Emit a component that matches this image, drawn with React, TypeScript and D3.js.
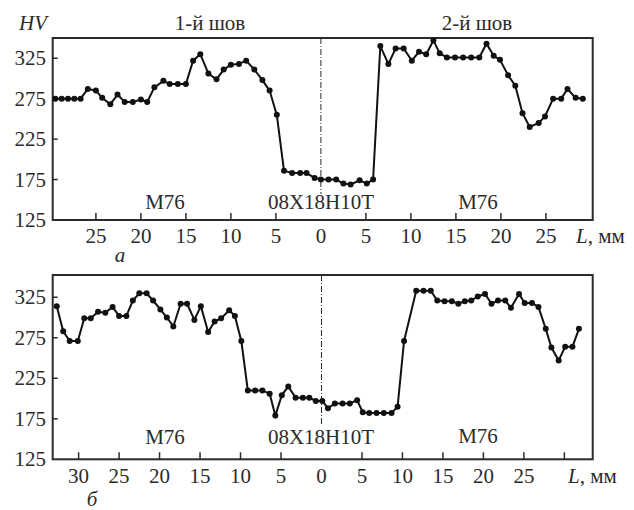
import * as d3 from "d3";

// hardness profiles, L in mm (negative = left of the joint axis), HV
const topL = [-29.5, -28.8, -28.1, -27.4, -26.7, -25.9, -25.0, -24.3, -23.4, -22.6, -21.8, -20.9, -20.0, -19.3, -18.5, -17.5, -16.8, -15.9, -15.0, -14.2, -13.4, -12.5, -11.6, -10.8, -10.0, -9.1, -8.3, -7.4, -6.5, -5.7, -4.9, -4.1, -3.2, -2.3, -1.6, -0.7, 0.0, 0.85, 1.7, 2.5, 3.3, 4.3, 5.1, 5.8, 6.6, 7.5, 8.3, 9.2, 10.1, 10.9, 11.7, 12.5, 13.2, 14.0, 14.9, 15.8, 16.7, 17.6, 18.4, 19.2, 19.9, 20.8, 21.6, 22.4, 23.2, 24.2, 24.9, 25.8, 26.7, 27.4, 28.3, 29.1];
const topHV = [275, 275, 275, 275, 275, 287, 285, 276, 268, 280, 271, 271, 274, 271, 289, 297, 293, 293, 293, 322, 330, 306, 299, 311, 317, 318, 322, 311, 298, 285, 255, 186, 183, 183, 183, 177, 175, 175, 175, 170, 169, 174, 170, 175, 340, 318, 337, 337, 322, 333, 330, 347, 331, 326, 326, 326, 326, 326, 343, 328, 323, 304, 291, 257, 240, 245, 253, 275, 275, 287, 276, 275];

const botL = [-32.7, -31.9, -31.1, -30.1, -29.3, -28.5, -27.6, -26.7, -25.8, -25.0, -24.1, -23.3, -22.5, -21.6, -20.8, -19.9, -19.1, -18.3, -17.4, -16.6, -15.7, -14.9, -14.0, -13.2, -12.4, -11.4, -10.7, -9.9, -9.1, -8.2, -7.3, -6.4, -5.7, -4.9, -4.1, -3.2, -2.3, -1.5, -0.7, 0.1, 0.8, 1.65, 2.6, 3.5, 4.4, 5.1, 5.9, 6.8, 7.7, 8.65, 9.4, 10.2, 11.7, 12.6, 13.5, 14.3, 15.2, 16.1, 16.9, 17.7, 18.5, 19.3, 20.2, 21.0, 21.8, 22.7, 23.4, 24.4, 25.1, 26.0, 26.8, 27.7, 28.4, 29.3, 30.1, 31.0, 31.8];
const botHV = [314, 283, 271, 271, 299, 299, 307, 306, 313, 302, 302, 321, 330, 330, 321, 310, 300, 289, 317, 317, 297, 314, 282, 295, 299, 309, 302, 271, 210, 210, 210, 206, 179, 204, 215, 201, 201, 201, 197, 197, 188, 194, 194, 194, 198, 183, 182, 182, 182, 182, 190, 271, 333, 333, 333, 321, 320, 320, 317, 320, 321, 326, 329, 317, 321, 321, 312, 329, 318, 318, 313, 286, 263, 247, 264, 264, 286];

const hvTicks = [125, 175, 225, 275, 325];
const topTicks = [-25, -20, -15, -10, -5, 0, 5, 10, 15, 20, 25];
const topTickLabels = ["25", "20", "15", "10", "5", "0", "5", "10", "15", "20", "25"];
const botTicks = [-30, -25, -20, -15, -10, -5, 0, 5, 10, 15, 20, 25, 30];
const botTickLabels = ["30", "25", "20", "15", "10", "5", "0", "5", "10", "15", "20", "25", ""];

const FONT = '"Liberation Serif", "Times New Roman", "DejaVu Serif", Times, serif';
const INK = "#2b2b2b";
const txt = { fontFamily: FONT, fill: INK } as const;

type PanelProps = {
  xs: number[];
  ys: number[];
  xDomain: [number, number];
  yDomain: [number, number];
  top: number;
  bottom: number;
  ticks: number[];
  tickLabels: string[];
  tickLabelY: number;
  axisPos: number; // dash-dot line ends here
  notes: { text: string; x: number; y: number }[];
};

function Panel(p: PanelProps) {
  const left = 52.7;
  const right = 592.7;
  const x = d3.scaleLinear().domain(p.xDomain).range([left, right]);
  const y = d3.scaleLinear().domain(p.yDomain).range([p.bottom, p.top]);
  const pts = p.xs.map((v, i) => [v, p.ys[i]] as [number, number]);
  const line = d3
    .line<[number, number]>()
    .x((d) => x(d[0]))
    .y((d) => y(d[1]));

  return (
    <g>
      <rect x={left} y={p.top} width={right - left} height={p.bottom - p.top} fill="none" stroke={INK} strokeWidth={2} />
      {/* joint axis */}
      <line x1={x(0)} x2={x(0)} y1={p.top} y2={p.axisPos} stroke={INK} strokeWidth={1} strokeDasharray="6,2,1,2" />
      {hvTicks.map((t) => (
        <g key={t}>
          {t !== 125 && <line x1={left} x2={left + 5} y1={y(t)} y2={y(t)} stroke={INK} strokeWidth={1.5} />}
          <text x={46} y={y(t) + 7} textAnchor="end" fontSize={21} style={txt}>
            {t}
          </text>
        </g>
      ))}
      {p.ticks.map((t, i) => (
        <g key={i}>
          {t !== 0 && <line x1={x(t)} x2={x(t)} y1={p.bottom} y2={p.bottom - 7} stroke={INK} strokeWidth={1.5} />}
          <text x={x(t)} y={p.tickLabelY} textAnchor="middle" fontSize={21} style={txt}>
            {p.tickLabels[i]}
          </text>
        </g>
      ))}
      {p.notes.map((n, i) => (
        <text key={i} x={n.x} y={n.y} textAnchor="middle" fontSize={21} style={txt}>
          {n.text}
        </text>
      ))}
      <path d={line(pts) ?? ""} fill="none" stroke="#111" strokeWidth={2} />
      {pts.map((d, i) => (
        <circle key={i} cx={x(d[0])} cy={y(d[1])} r={3} fill="#111" />
      ))}
    </g>
  );
}

export default function App() {
  return (
    <svg width={634} height={510} style={{ position: "absolute", left: 0, top: 0, background: "#fff" }}>
      <text x={19} y={30} fontSize={21} fontStyle="italic" style={txt}>
        HV
      </text>
      <text x={210} y={30} textAnchor="middle" fontSize={21} style={txt}>
        1-й шов
      </text>
      <text x={477} y={30} textAnchor="middle" fontSize={21} style={txt}>
        2-й шов
      </text>
      <Panel
        xs={topL}
        ys={topHV}
        xDomain={[-29.8, 30.2]}
        yDomain={[125, 350]}
        top={38}
        bottom={220}
        ticks={topTicks}
        tickLabels={topTickLabels}
        tickLabelY={243}
        axisPos={194}
        notes={[
          { text: "M76", x: 165, y: 209 },
          { text: "08X18H10T", x: 321, y: 209 },
          { text: "M76", x: 478, y: 209 },
        ]}
      />
      <text x={576} y={243} fontSize={21} style={txt}>
        <tspan fontStyle="italic">L</tspan>, мм
      </text>
      <text x={120} y={262} textAnchor="middle" fontSize={21} fontStyle="italic" style={txt}>
        а
      </text>
      <Panel
        xs={botL}
        ys={botHV}
        xDomain={[-33.2, 33.5]}
        yDomain={[125, 352.5]}
        top={275}
        bottom={459.3}
        ticks={botTicks}
        tickLabels={botTickLabels}
        tickLabelY={483}
        axisPos={426}
        notes={[
          { text: "M76", x: 165, y: 444 },
          { text: "08X18H10T", x: 321, y: 444 },
          { text: "M76", x: 478, y: 443 },
        ]}
      />
      <text x={568} y={483} fontSize={21} style={txt}>
        <tspan fontStyle="italic">L</tspan>, мм
      </text>
      <text x={92} y={506} textAnchor="middle" fontSize={21} fontStyle="italic" style={txt}>
        б
      </text>
    </svg>
  );
}
